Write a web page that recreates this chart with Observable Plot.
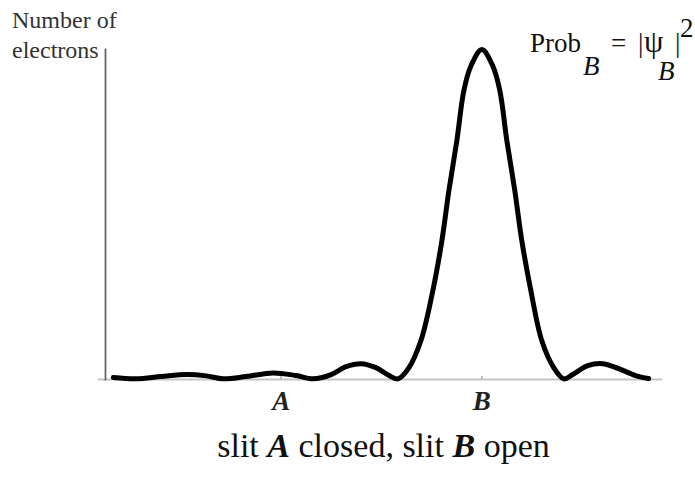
<!DOCTYPE html>
<html>
<head>
<meta charset="utf-8">
<script src="https://cdn.jsdelivr.net/npm/d3@7"></script>
<script src="https://cdn.jsdelivr.net/npm/@observablehq/plot@0.6"></script>
<style>
  html, body { margin: 0; padding: 0; background: #fff; }
  #chart svg { display: block; }
</style>
</head>
<body>
<div id="chart"></div>
<script>
// Screen position (slit A at -1, slit B at +1) and relative electron count
const positions = [
  -2.672, -2.443, -2.194, -1.945, -1.746, -1.577, -1.348, -1.080, -0.851, -0.682,
  -0.502, -0.353, -0.204, -0.055, 0.075, 0.164, 0.274, 0.393, 0.512, 0.602,
  0.672, 0.751, 0.821, 0.891, 1.000, 1.109, 1.179, 1.249, 1.328, 1.398,
  1.488, 1.597, 1.716, 1.816, 1.905, 2.055, 2.204, 2.363, 2.532, 2.662
];
const counts = [
  0.006, 0.002, 0.009, 0.015, 0.011, 0.002, 0.009, 0.020, 0.012, 0.002,
  0.015, 0.039, 0.048, 0.036, 0.012, 0.002, 0.036, 0.118, 0.270, 0.421,
  0.573, 0.724, 0.876, 0.950, 1.000, 0.950, 0.876, 0.724, 0.573, 0.421,
  0.270, 0.118, 0.036, 0.002, 0.015, 0.042, 0.048, 0.033, 0.012, 0.003
];
const tickValues = [-1, 1];
const tickLabels = ["A", "B"];

const serif = "'Liberation Serif', 'Times New Roman', serif";
const W = 695, H = 479;
const margin = {top: 49, right: 33, bottom: 100, left: 105};

const curve = positions.map((x, i) => ({x, y: counts[i]}));

const plot = Plot.plot({
  width: W,
  height: H,
  marginTop: margin.top,
  marginRight: margin.right,
  marginBottom: margin.bottom,
  marginLeft: margin.left,
  x: {domain: [-2.75, 2.8], axis: null},
  y: {domain: [0, 1], axis: null},
  style: {background: "#fff", overflow: "visible"},
  marks: [
    // horizontal axis line, reaching slightly past the vertical axis
    Plot.ruleY([0], {stroke: "#c4c4c4", strokeWidth: 2, insetLeft: -7}),
    // vertical axis line
    Plot.frame({anchor: "left", stroke: "#666", strokeWidth: 1.8}),
    // small tick marks at the slit positions
    Plot.ruleX(tickValues, {y1: 0, y2: 0, insetTop: -3, stroke: "#aaa", strokeWidth: 1.5}),
    Plot.text(tickValues, {
      x: (d) => d,
      frameAnchor: "bottom",
      lineAnchor: "top",
      dy: 11,
      text: (d, i) => tickLabels[i],
      fontFamily: serif,
      fontSize: 27,
      fontWeight: "bold",
      fontStyle: "italic",
      fill: "#222"
    }),
    Plot.line(curve, {
      x: "x",
      y: "y",
      curve: "catmull-rom",
      stroke: "#000",
      strokeWidth: 5,
      strokeLinecap: "round",
      strokeLinejoin: "round"
    })
  ]
});

const svg = d3.select(plot);

// y-axis label
const ylab = svg.append("text")
  .attr("text-anchor", "start")
  .attr("font-family", serif)
  .attr("font-size", 24)
  .attr("fill", "#333");
ylab.append("tspan").attr("x", 12).attr("y", 28).text("Number of");
ylab.append("tspan").attr("x", 12).attr("y", 58).text("electrons");

// probability annotation
const prob = svg.append("text")
  .attr("text-anchor", "start")
  .attr("font-family", serif)
  .attr("font-size", 27)
  .attr("fill", "#111");
prob.append("tspan").attr("x", 530).attr("y", 52).text("Prob");
prob.append("tspan").attr("x", 583).attr("y", 75).attr("font-style", "italic").text("B");
prob.append("tspan").attr("x", 611).attr("y", 52).text("=");
prob.append("tspan").attr("x", 638).attr("y", 52).text("|");
prob.append("tspan").attr("x", 644).attr("y", 52).attr("font-size", 31).text("\u03C8");
prob.append("tspan").attr("x", 658).attr("y", 80).attr("font-style", "italic").text("B");
prob.append("tspan").attr("x", 675).attr("y", 52).text("|");
prob.append("tspan").attr("x", 680).attr("y", 37).text("2");

// caption under the axis
const cx = margin.left + (W - margin.left - margin.right) / 2;
const title = svg.append("text")
  .attr("x", cx)
  .attr("y", 457)
  .attr("text-anchor", "middle")
  .attr("font-family", serif)
  .attr("font-size", 34)
  .attr("fill", "#111");
title.append("tspan").text("slit ");
title.append("tspan").attr("font-weight", "bold").attr("font-style", "italic").text("A");
title.append("tspan").text(" closed, slit ");
title.append("tspan").attr("font-weight", "bold").attr("font-style", "italic").text("B");
title.append("tspan").text(" open");

document.getElementById("chart").appendChild(plot);
</script>
</body>
</html>
